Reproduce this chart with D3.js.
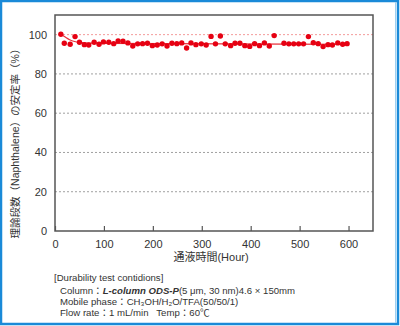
<!DOCTYPE html>
<html><head><meta charset="utf-8">
<script src="https://cdn.jsdelivr.net/npm/d3@7"></script>
<style>
html,body{margin:0;padding:0;background:#fff;}
svg text{font-family:"Liberation Sans",Arial,"Noto Sans CJK JP",sans-serif;fill:#333;}
</style></head>
<body>
<svg id="c" width="400" height="326"></svg>
<script>
const hours = [12,19,31,41,50,60,69,80,90,99,110,120,129,139,149,159,169,179,189,199,209,219,229,239,249,259,269,278,288,299,309,319,328,338,348,359,368,378,388,398,408,418,428,438,448,468,478,488,498,508,518,528,538,548,558,567,578,588,597];
const rates = [100.2,95.6,95.1,99.0,96.1,94.9,94.7,96.1,95.1,96.3,96.1,95.4,96.8,96.6,95.8,94.2,95.3,95.4,95.6,94.4,94.7,95.3,94.2,95.6,95.4,95.8,93.2,95.8,94.9,95.3,94.7,99.1,95.3,99.3,95.3,94.4,95.6,95.6,94.4,94.0,95.4,94.4,95.8,94.2,99.5,95.6,95.3,95.3,95.3,95.3,99.0,95.9,95.4,93.9,94.9,94.7,95.8,95.1,95.4];
const fitHours = [12,20,30,40,55,75,100,600];
const fitRates = [100.2,98.9,97.4,96.5,95.9,95.7,95.6,95.0];
const xTicks = [0,100,200,300,400,500,600];
const yTicks = [0,20,40,60,80,100];

const svg = d3.select("#c");
const L=55,R=373,T=15,B=231;
const x = d3.scaleLinear().domain([0,650]).range([L,R]);
const y = d3.scaleLinear().domain([0,110]).range([B,T]);

// outer blue frame
svg.append("rect").attr("x",1).attr("y",1).attr("width",397).attr("height",323)
  .attr("fill","none").attr("stroke","#1a8ad8").attr("stroke-width",2.5);
svg.append("line").attr("x1",395.5).attr("x2",395.5).attr("y1",2).attr("y2",323).attr("stroke","#9fd0f0").attr("stroke-width",1);

// gridlines
yTicks.filter(d=>d>0).forEach(d=>{
  svg.append("line").attr("x1",L).attr("x2",R).attr("y1",y(d)).attr("y2",y(d))
    .attr("stroke", d===100 ? "#f08080" : "#888").attr("stroke-width",0.8)
    .attr("stroke-dasharray","2,2");
});

// axes
const xa = svg.append("g").attr("transform",`translate(0,${B})`)
  .call(d3.axisBottom(x).tickValues(xTicks).tickSizeInner(-5).tickSizeOuter(0).tickPadding(9));
xa.select(".domain").remove();
xa.selectAll("line").attr("stroke","#555").attr("stroke-width",1.2);
xa.selectAll("text").attr("font-size",11).attr("fill","#333");

const ya = svg.append("g").attr("transform",`translate(${L},0)`)
  .call(d3.axisLeft(y).tickValues(yTicks).tickSize(0).tickPadding(8));
ya.select(".domain").remove();
ya.selectAll("text").attr("font-size",11).attr("fill","#333");

// plot frame
svg.append("rect").attr("x",L).attr("y",T).attr("width",R-L).attr("height",B-T)
  .attr("fill","none").attr("stroke","#555").attr("stroke-width",1.5);

// fit line
svg.append("path").datum(fitHours.map((h,i)=>[h,fitRates[i]]))
  .attr("d",d3.line().x(d=>x(d[0])).y(d=>y(d[1])).curve(d3.curveMonotoneX))
  .attr("fill","none").attr("stroke","#e8303a").attr("stroke-width",1.2);

// points
svg.append("g").selectAll("circle").data(hours.map((h,i)=>[h,rates[i]])).join("circle")
  .attr("cx",d=>x(d[0])).attr("cy",d=>y(d[1])).attr("r",2.7).attr("fill","#e60012");

// axis titles
svg.append("text").attr("x",(L+R)/2-3).attr("y",261).attr("text-anchor","middle")
  .attr("font-size",11).text("通液時間(Hour)");
svg.append("text").attr("transform","translate(19,141) rotate(-90)").attr("text-anchor","middle")
  .attr("font-size",10.5).text("理論段数（Naphthalene）の安定率（%）");

// conditions
const g = svg.append("g").attr("font-size",9.6);
g.append("text").attr("x",54).attr("y",281).text("[Durability test contidions]");
const t2 = g.append("text").attr("x",60).attr("y",294);
t2.append("tspan").text("Column：");
t2.append("tspan").attr("font-weight","bold").attr("font-style","italic").text("L-column ODS-P");
t2.append("tspan").text("(5 μm, 30 nm)4.6 × 150mm");
g.append("text").attr("x",60).attr("y",305).text("Mobile phase：CH₃OH/H₂O/TFA(50/50/1)");
g.append("text").attr("x",60).attr("y",316).attr("xml:space","preserve").text("Flow rate：1 mL/min   Temp：60℃");
</script>
</body></html>
